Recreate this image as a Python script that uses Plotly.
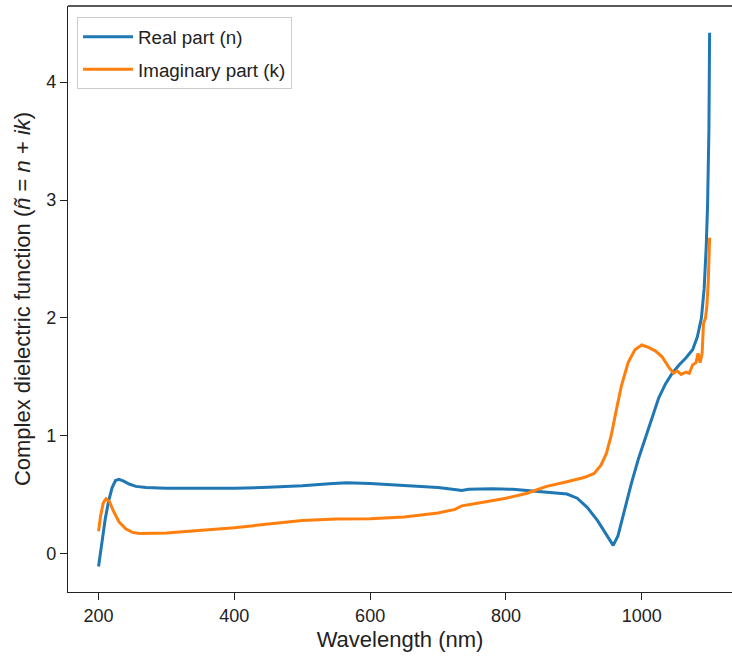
import plotly.graph_objects as go

# Real part (n)
wl_n = [200, 205, 210, 215, 220, 225, 230, 237, 245, 255, 270, 300, 350, 400, 450,
        500, 540, 565, 600, 650, 700, 730, 735, 745, 780, 810, 840, 870, 890, 905,
        920, 935, 948, 958, 965, 975, 985, 995, 1005, 1015, 1025, 1035, 1045, 1055,
        1065, 1075, 1082, 1088, 1092, 1095, 1097, 1099, 1100]
n_vals = [-0.11, 0.10, 0.30, 0.45, 0.56, 0.62, 0.63, 0.615, 0.59, 0.57, 0.56, 0.555,
          0.553, 0.555, 0.562, 0.575, 0.592, 0.60, 0.595, 0.58, 0.56, 0.54, 0.535,
          0.545, 0.55, 0.545, 0.53, 0.52, 0.505, 0.47, 0.39, 0.28, 0.16, 0.07, 0.15,
          0.38, 0.60, 0.80, 0.98, 1.16, 1.32, 1.44, 1.53, 1.60, 1.66, 1.73, 1.84,
          2.0, 2.25, 2.6, 2.95, 3.6, 4.42]

# Imaginary part (k)
wl_k = [200, 203, 207, 211, 216, 222, 230, 240, 250, 260, 300, 350, 400, 450, 500,
        550, 600, 650, 700, 725, 735, 760, 800, 830, 860, 890, 915, 930, 940, 948,
        955, 962, 970, 980, 990, 1000, 1010, 1020, 1030, 1040, 1047, 1052, 1058,
        1065, 1070, 1075, 1080, 1083, 1086, 1089, 1091, 1094, 1096, 1098, 1100]
k_vals = [0.19, 0.32, 0.43, 0.465, 0.44, 0.36, 0.27, 0.21, 0.18, 0.17, 0.175, 0.195,
          0.22, 0.25, 0.28, 0.293, 0.295, 0.31, 0.345, 0.375, 0.405, 0.43, 0.47,
          0.51, 0.57, 0.61, 0.645, 0.68, 0.75, 0.85, 1.0, 1.2, 1.42, 1.62, 1.73,
          1.77, 1.75, 1.72, 1.67, 1.58, 1.53, 1.55, 1.52, 1.54, 1.53, 1.60, 1.62,
          1.70, 1.62, 1.70, 1.95, 2.0, 2.1, 2.3, 2.68]

x_ticks = [200, 400, 600, 800, 1000]
y_ticks = [0, 1, 2, 3, 4]

FONT = "Liberation Sans, Arial, sans-serif"
FS = 18

fig = go.Figure()
fig.add_trace(go.Scatter(x=wl_n, y=n_vals, mode="lines", name="Real part (n)",
                         legendgroup="n",
                         line=dict(color="#1f77b4", width=3)))
fig.add_trace(go.Scatter(x=wl_k, y=k_vals, mode="lines", name="Imaginary part (k)",
                         legendgroup="k",
                         line=dict(color="#ff7f0e", width=3)))

fig.update_layout(
    width=732, height=658,
    margin=dict(l=68, r=0, t=6, b=66, autoexpand=False),
    paper_bgcolor="white", plot_bgcolor="white",
    font=dict(family=FONT, size=FS, color="#222222"),
    showlegend=True,
    legend=dict(x=0.0136, y=0.981, xanchor="left", yanchor="top",
                bgcolor="rgba(255,255,255,0.8)", bordercolor="#cccccc",
                borderwidth=1, font=dict(family=FONT, size=18.8),
                tracegroupgap=5, itemwidth=50),
    xaxis=dict(range=[155, 1133], tickvals=x_ticks, ticks="outside", ticklen=7,
               tickwidth=1.2, tickcolor="#222", showline=True, linecolor="#222",
               linewidth=1.3, showgrid=False, zeroline=False, automargin=False,
               title=dict(text="Wavelength (nm)", standoff=6),
               tickfont=dict(family=FONT, size=FS)),
    yaxis=dict(range=[-0.326, 4.646], tickvals=y_ticks, ticks="outside", ticklen=7,
               tickwidth=1.2, tickcolor="#222", showline=True, linecolor="#222",
               linewidth=1.3, showgrid=False, zeroline=False, automargin=False,
               title=dict(text="Complex dielectric function (<i>ñ</i> = <i>n</i> + <i>ik</i>)",
                          standoff=9),
               tickfont=dict(family=FONT, size=FS)),
    shapes=[dict(type="line", xref="paper", yref="paper", x0=0, x1=1, y0=1, y1=1,
                 line=dict(color="#222", width=1.3))],
)

fig.write_html("out.html",
               config={"displayModeBar": False},
               post_script="document.body.style.margin='0';document.body.style.padding='0';document.body.style.overflow='hidden';")
